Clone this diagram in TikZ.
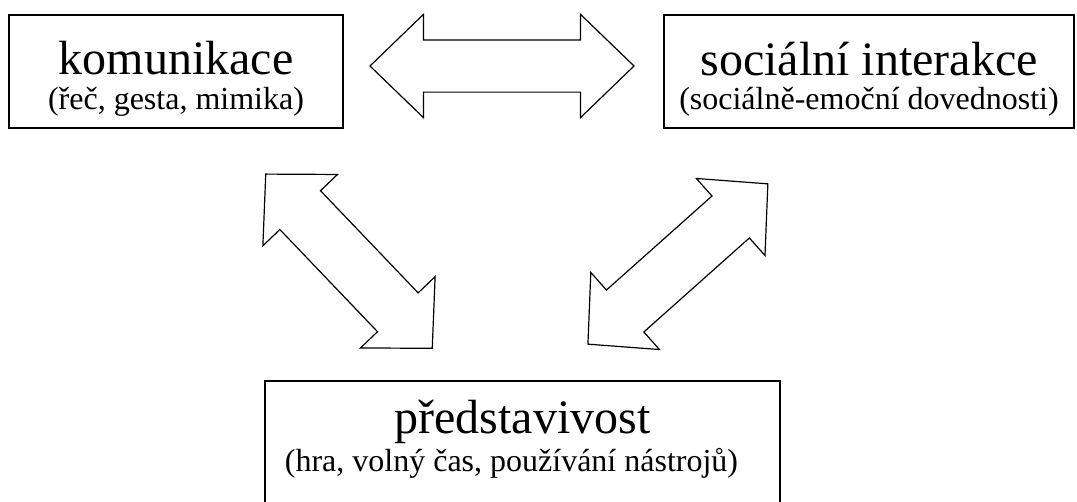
\documentclass[tikz,border=0pt]{standalone}
\usepackage{fontspec}
\setmainfont{Liberation Serif}
\usetikzlibrary{positioning, shapes.arrows}

\tikzset{
	box/.style={draw, rectangle, line width=1.5pt, minimum height=113pt, inner sep=0pt},
	title/.style={font=\fontsize{48}{52}\selectfont, anchor=base, inner sep=0pt},
	subtitle/.style={font=\fontsize{32}{36}\selectfont, anchor=base, inner sep=0pt},
	link/.style={draw, double arrow, line width=1.2pt, inner sep=0pt}
}

\begin{document}
\begin{tikzpicture}[x=1pt, y=1pt]
	\useasboundingbox (0,0) rectangle (1077,-501);
	\clip (0,0) rectangle (1077,-501);

	\node[box, minimum width=334pt] (kom) at (176,-71.5) {};
	\node[box, minimum width=410pt] (soc) at (869,-71.5) {};
	\node[box, minimum width=515pt, minimum height=140pt] (pred) at (522.5,-451) {};

	\node[title] (komT) at ([yshift=-60pt]kom.north) {komunikace};
	\node[subtitle] (komS) at ([yshift=-95pt]kom.north) {(řeč, gesta, mimika)};
	\node[title] (socT) at ([yshift=-61pt]soc.north) {sociální interakce};
	\node[subtitle] (socS) at ([yshift=-95pt]soc.north) {(sociálně-emoční dovednosti)};
	\node[title] (predT) at ([yshift=-53pt]pred.north) {představivost};
	\node[subtitle] (predS) at ([xshift=-11pt, yshift=-91pt]pred.north) {(hra, volný čas, používání nástrojů)};

	\node[link, minimum height=264pt, inner ysep=25.5pt, double arrow head extend=25.5pt,
		double arrow tip angle=88] (komsoc) at (502,-66) {};
	\node[link, minimum height=241pt, inner ysep=27.5pt, double arrow head extend=23.5pt,
		double arrow tip angle=92, rotate=-46.3] (kompred) at (349,-261.2) {};
	\node[link, minimum height=241pt, inner ysep=27.5pt, double arrow head extend=23.5pt,
		double arrow tip angle=92, rotate=41.7] (socpred) at (677.9,-264) {};
\end{tikzpicture}
\end{document}
